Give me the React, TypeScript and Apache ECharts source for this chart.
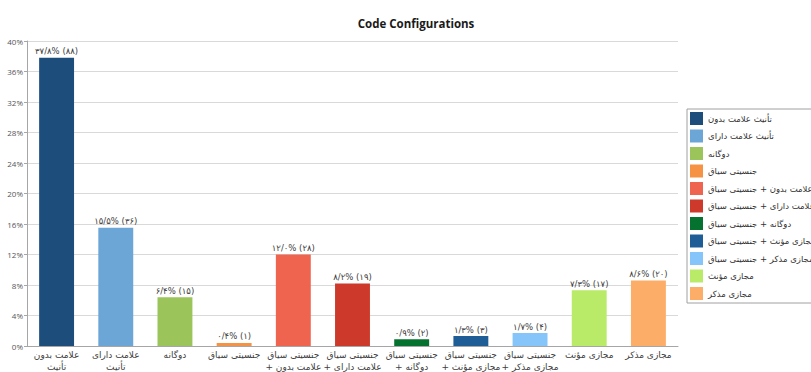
import React, { useEffect, useRef } from "react";
import * as echarts from "echarts";

const categories = [
  "بدون علامت تأنیث",
  "دارای علامت تأنیث",
  "دوگانه",
  "سیاق جنسیتی",
  "سیاق جنسیتی + بدون علامت تأنیث",
  "سیاق جنسیتی + دارای علامت تأنیث",
  "سیاق جنسیتی + دوگانه",
  "سیاق جنسیتی + مؤنث مجازی",
  "سیاق جنسیتی + مذکر مجازی",
  "مؤنث مجازی",
  "مذکر مجازی",
];
const axisLabelLines = [
  ["بدون علامت", "تأنیث"],
  ["دارای علامت", "تأنیث"],
  ["دوگانه"],
  ["سیاق جنسیتی"],
  ["سیاق جنسیتی", "+ بدون علامت", "تأنیث"],
  ["سیاق جنسیتی", "+ دارای علامت", "تأنیث"],
  ["سیاق جنسیتی", "+ دوگانه"],
  ["سیاق جنسیتی", "+ مؤنث مجازی"],
  ["سیاق جنسیتی", "+ مذکر مجازی"],
  ["مؤنث مجازی"],
  ["مذکر مجازی"],
];
const counts = [88, 36, 15, 1, 28, 19, 2, 3, 4, 17, 20];
const percents = [37.8, 15.5, 6.4, 0.4, 12.0, 8.2, 0.9, 1.3, 1.7, 7.3, 8.6];
const colors = [
  "#1d4e7b",
  "#6ba6d7",
  "#9bc55a",
  "#f59243",
  "#ee644f",
  "#cd3a2b",
  "#06722f",
  "#1f5d97",
  "#86c5fa",
  "#b9eb69",
  "#fcad68",
];
const yMin = 0;
const yMax = 40;
const yInterval = 4;

const faDigits = "۰۱۲۳۴۵۶۷۸۹";
const toFa = (s: string) =>
  s.replace(/[0-9]/g, (d) => faDigits[Number(d)]).replace(/\./g, "/");
// The reference lays the words out left to right: left-to-right marks
// around the spaces give that order without changing the text.
const ltr = (s: string) => s.split(" ").join("\u200E \u200E");

const ARABIC_FONT = "DejaVu Sans";

export default function App() {
  const ref = useRef<HTMLDivElement>(null);
  useEffect(() => {
    if (!ref.current) return;
    const chart = echarts.init(ref.current, undefined, { renderer: "svg" });
    const names = categories.map(ltr);
    const series = categories.map((_, i) => ({
      name: names[i],
      type: "bar",
      stack: "all",
      barCategoryGap: "41%",
      itemStyle: { color: colors[i] },
      data: categories.map((__, j) => (j === i ? percents[i] : "-")),
      label: {
        show: true,
        position: "top",
        distance: 2,
        color: "#404040",
        fontSize: 8.5,
        fontFamily: ARABIC_FONT,
        formatter: () =>
          toFa(percents[i].toFixed(1)) + "% (" + toFa(String(counts[i])) + ")",
      },
    }));
    chart.setOption({
      animation: false,
      title: {
        text: "Code Configurations",
        left: 411,
        textAlign: "center",
        top: 12,
        textStyle: {
          fontFamily: "Open Sans",
          fontWeight: "bold",
          fontSize: 11.5,
          color: "#1a1a1a",
        },
      },
      grid: {
        left: 27,
        right: 133,
        top: 41,
        bottom: 26,
        containLabel: false,
        outerBoundsMode: "none",
      },
      legend: {
        orient: "vertical",
        left: 687,
        top: 109,
        data: names,
        icon: "rect",
        itemWidth: 13,
        itemHeight: 13,
        itemGap: 4.5,
        padding: [3, 20, 3, 3],
        borderColor: "#a0a0a0",
        borderWidth: 1,
        textStyle: { fontSize: 8.5, color: "#333", fontFamily: ARABIC_FONT },
      },
      xAxis: {
        type: "category",
        data: categories,
        axisLine: { lineStyle: { color: "#a6a6a6" } },
        axisTick: { show: false },
        axisLabel: {
          interval: 0,
          fontSize: 9,
          lineHeight: 12,
          margin: 3,
          color: "#404040",
          fontFamily: ARABIC_FONT,
          formatter: (_v: string, idx: number) =>
            axisLabelLines[idx].map(ltr).join("\n"),
        },
      },
      yAxis: {
        type: "value",
        min: yMin,
        max: yMax,
        interval: yInterval,
        axisLine: { show: true, lineStyle: { color: "#a6a6a6" } },
        axisTick: { show: true, length: 3, lineStyle: { color: "#a6a6a6" } },
        splitLine: { lineStyle: { color: "#d9d9d9" } },
        axisLabel: {
          fontSize: 8,
          color: "#555",
          margin: 4,
          fontFamily: "Open Sans",
          formatter: (v: number) => v + "%",
        },
      },
      series,
    });
    return () => chart.dispose();
  }, []);
  return (
    <div
      ref={ref}
      style={{ width: 811, height: 372, position: "absolute", left: 0, top: 0 }}
    />
  );
}
